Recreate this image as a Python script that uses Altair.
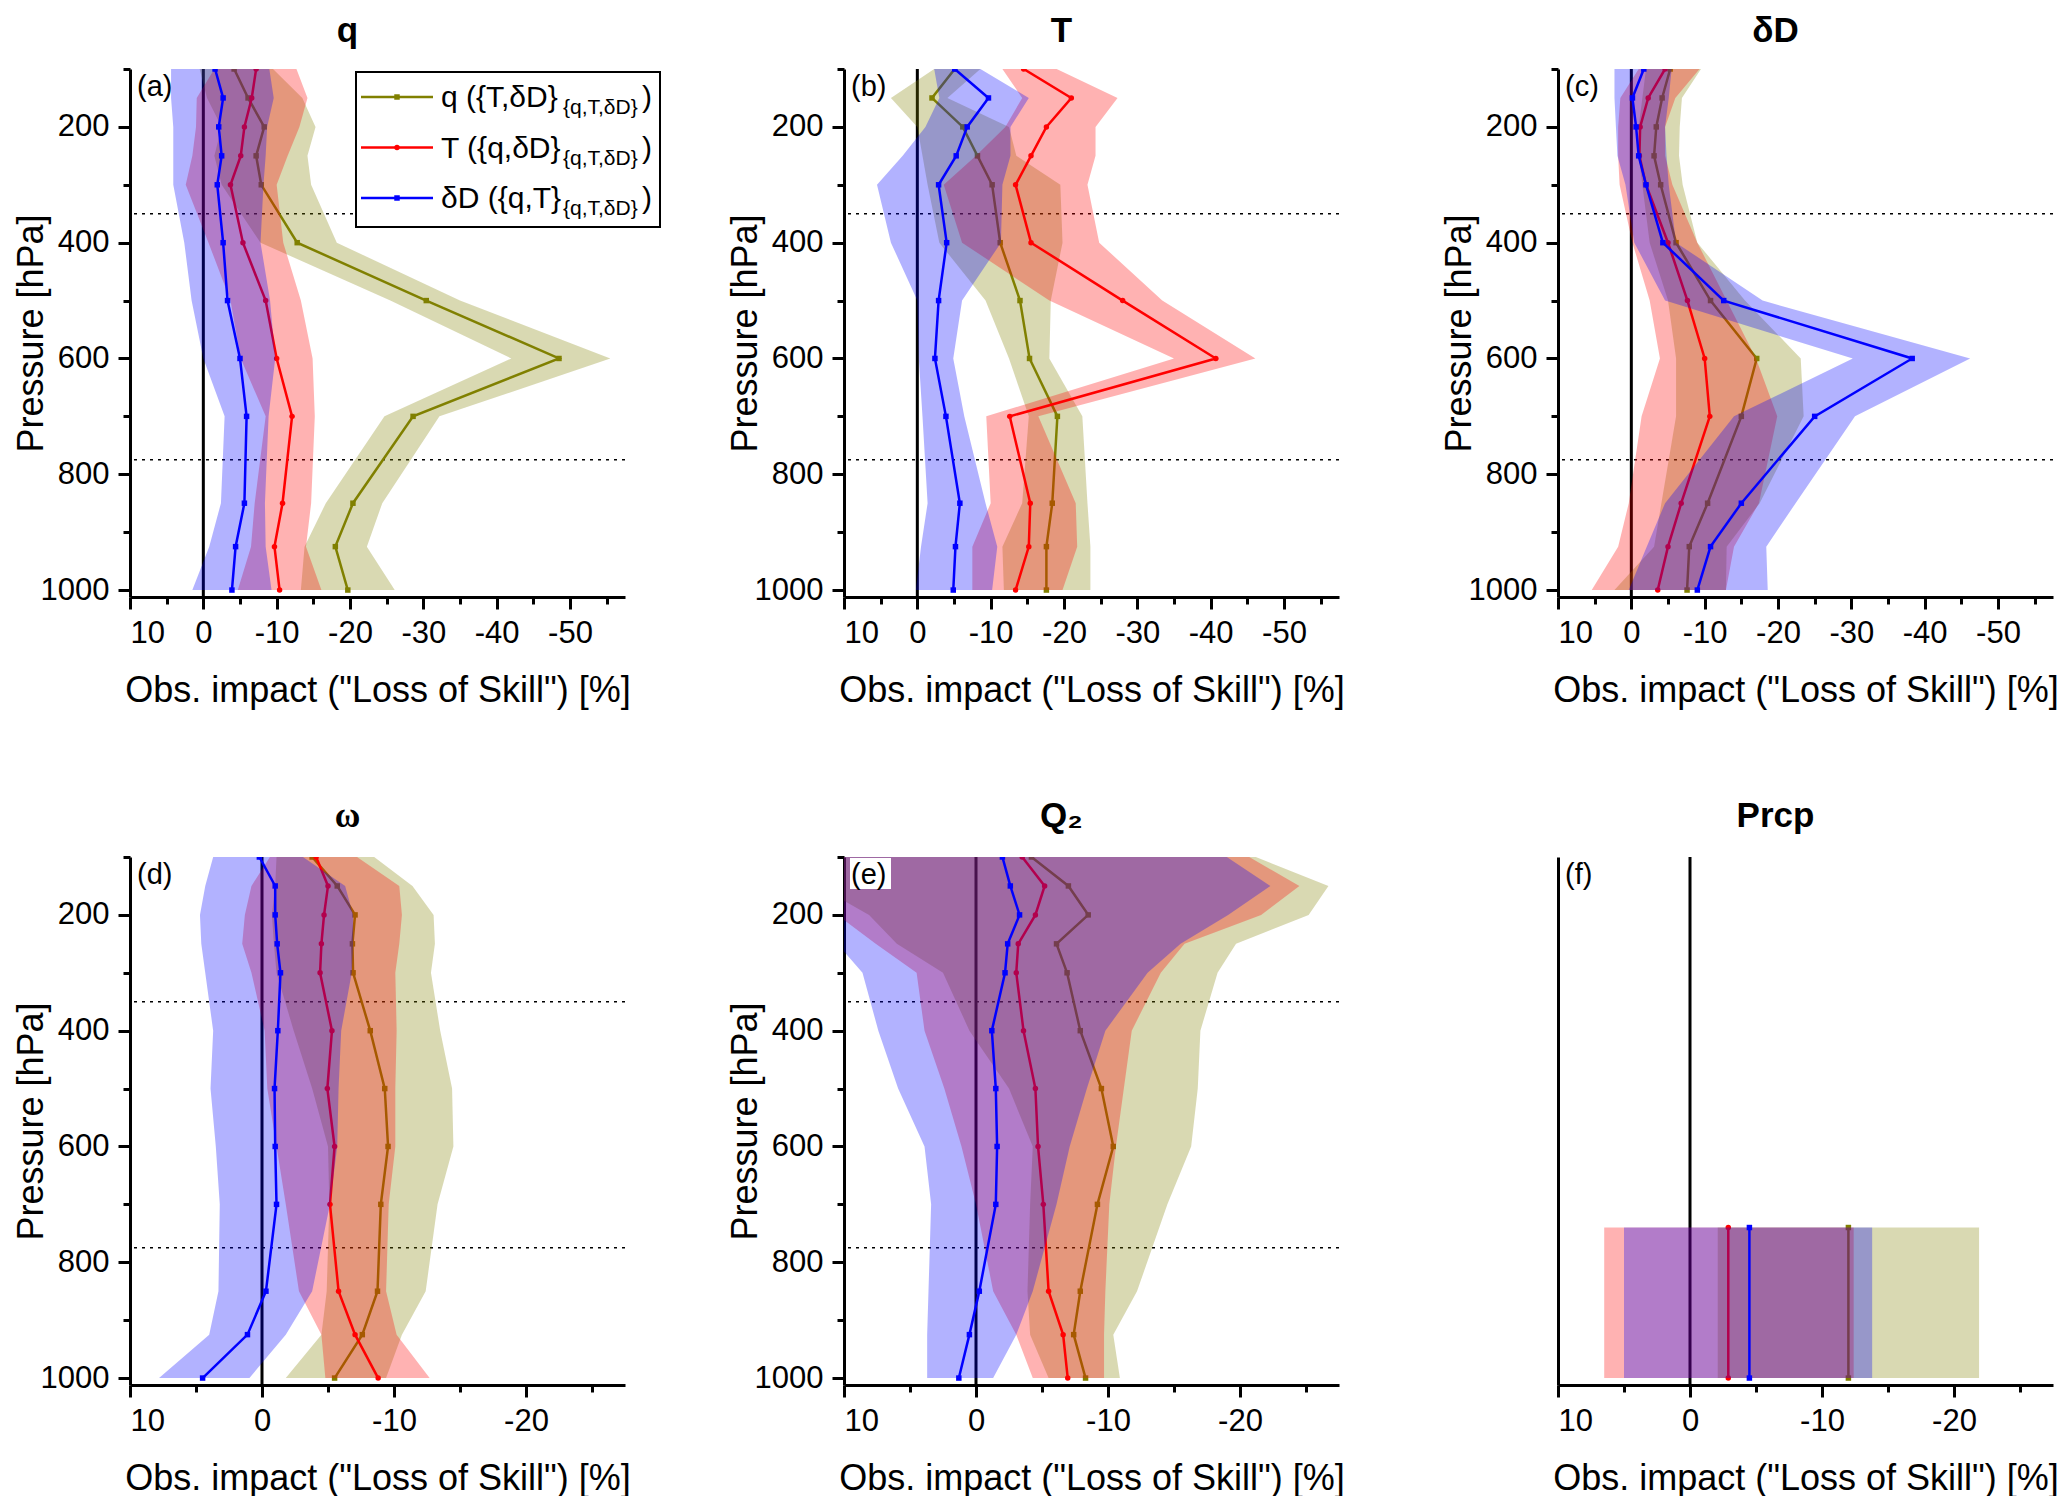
import pandas as pd
import altair as alt

LEVELS = [100, 150, 200, 250, 300, 400, 500, 600, 700, 850, 925, 1000]
PRCP_LEVELS = [740, 1000]
DOTTED = [350, 775]

# (a) q
a_q = [-4.2, -6.1, -8.3, -7.2, -7.9, -12.8, -30.4, -48.5, -28.6, -20.4, -18.0, -19.7]
a_q_lo = [0.5, -0.5, -2.5, -1.5, -2.5, -7.8, -25.5, -42.0, -24.7, -16.7, -13.8, -13.3]
a_q_hi = [-9.5, -13.5, -15.3, -14.2, -14.7, -18.2, -35.0, -55.5, -32.2, -24.4, -22.3, -26.1]
a_T = [-7.2, -6.6, -5.6, -5.1, -3.7, -5.4, -8.5, -10.0, -12.1, -10.8, -9.7, -10.4]
a_T_lo = [-1.5, 0.9, 1.0, 1.5, 2.4, -0.7, -3.7, -5.1, -8.5, -7.0, -6.5, -4.7]
a_T_hi = [-12.7, -14.2, -13.1, -11.5, -10.0, -10.9, -13.3, -14.9, -15.2, -14.7, -14.0, -16.1]
a_dD = [-1.6, -2.7, -2.1, -2.5, -1.9, -2.7, -3.3, -5.0, -5.9, -5.6, -4.4, -3.9]
a_dD_lo = [4.4, 4.4, 4.1, 4.1, 4.1, 2.6, 1.6, 0.0, -2.9, -2.4, -0.8, 1.5]
a_dD_hi = [-9.0, -9.6, -8.7, -8.5, -8.2, -7.8, -9.1, -9.8, -8.9, -8.4, -8.5, -9.3]

# (b) T
b_q = [-5.1, -2.0, -6.2, -8.2, -10.2, -11.3, -14.0, -15.3, -19.1, -18.4, -17.6, -17.6]
b_q_lo = [-2.3, 3.6, 0.0, -0.7, -1.4, -3.0, -9.3, -12.5, -15.2, -14.3, -11.6, -11.8]
b_q_hi = [-8.6, -4.1, -12.5, -13.5, -19.5, -19.8, -18.2, -18.0, -22.5, -23.2, -23.6, -23.6]
b_T = [-14.5, -21.0, -17.6, -15.5, -13.4, -15.5, -28.0, -40.7, -12.6, -15.4, -15.2, -13.4]
b_T_lo = [-11.6, -14.3, -12.0, -8.0, -3.6, -6.1, -18.0, -35.0, -9.4, -10.0, -7.5, -7.5]
b_T_hi = [-19.0, -27.3, -24.3, -24.3, -23.2, -24.8, -33.4, -46.1, -16.5, -21.6, -21.8, -19.8]
b_dD = [-5.1, -9.7, -6.8, -5.3, -2.9, -4.0, -2.9, -2.4, -3.9, -5.8, -5.2, -4.9]
b_dD_lo = [-2.3, -3.0, -1.1, 2.0, 5.5, 3.6, 0.0, -0.2, -0.7, -1.4, -0.5, 0.2]
b_dD_hi = [-8.6, -15.2, -12.7, -12.7, -11.6, -11.4, -6.1, -4.9, -6.4, -9.3, -10.9, -10.2]

# (c) dD
c_q = [-5.3, -4.2, -3.4, -3.1, -4.0, -6.1, -10.8, -17.1, -15.0, -10.4, -7.9, -7.6]
c_q_lo = [-2.0, -1.5, -1.0, -1.0, -1.5, -2.5, -5.0, -6.1, -6.1, -4.1, -3.1, 2.3]
c_q_hi = [-9.5, -6.9, -6.6, -6.5, -7.0, -9.0, -15.5, -23.1, -23.5, -17.5, -13.0, -12.9]
c_T = [-4.6, -2.3, -1.2, -1.1, -2.0, -5.0, -7.65, -10.0, -10.7, -6.8, -5.0, -3.6]
c_T_lo = [-1.0, 1.5, 1.8, 1.8, 1.6, -0.15, -2.5, -3.9, -1.4, 0.35, 1.8, 5.4]
c_T_hi = [-9.3, -6.0, -4.6, -4.6, -5.6, -9.0, -13.0, -17.0, -19.9, -17.4, -14.0, -12.9]
c_dD = [-1.7, -0.15, -0.65, -1.0, -2.0, -4.3, -12.6, -38.3, -25.0, -15.0, -10.8, -9.0]
c_dD_lo = [2.3, 2.3, 2.1, 1.9, 0.8, -0.4, -4.6, -30.2, -14.0, -4.6, -2.1, 0.35]
c_dD_hi = [-5.5, -5.1, -4.6, -4.8, -5.1, -6.1, -17.9, -46.2, -30.5, -22.4, -18.4, -18.6]

# (d) omega
d_q = [-3.8, -5.7, -7.05, -6.85, -6.9, -8.2, -9.3, -9.55, -9.0, -8.75, -7.6, -5.5]
d_q_lo = [-1.1, -1.0, -0.75, -0.9, -1.1, -2.4, -3.8, -5.0, -5.1, -4.9, -4.5, -1.8]
d_q_hi = [-8.5, -11.4, -13.0, -13.1, -12.8, -13.5, -14.4, -14.5, -13.3, -12.4, -10.6, -9.4]
d_T = [-4.1, -5.0, -4.7, -4.5, -4.4, -5.3, -4.95, -5.5, -5.15, -5.8, -7.05, -8.8]
d_T_lo = [-0.6, 0.8, 1.3, 1.5, 0.8, -0.2, -0.4, -1.1, -1.8, -2.8, -4.5, -4.8]
d_T_hi = [-7.2, -10.4, -10.6, -10.4, -10.1, -10.2, -10.1, -10.1, -9.6, -9.4, -10.2, -12.7]
d_dD = [0.2, -1.0, -1.0, -1.15, -1.4, -1.2, -0.95, -1.0, -1.1, -0.3, 1.1, 4.5]
d_dD_lo = [3.7, 4.3, 4.7, 4.6, 4.3, 3.7, 3.9, 3.5, 3.2, 3.3, 4.0, 7.8]
d_dD_hi = [-3.1, -6.3, -6.9, -6.9, -6.8, -6.0, -5.8, -5.7, -5.15, -3.8, -1.8, 0.95]

# (e) Q2
e_q = [-4.2, -7.0, -8.5, -6.1, -6.9, -7.9, -9.5, -10.4, -9.2, -7.9, -7.4, -8.3]
e_q_lo = [12.0, 12.0, 8.1, 6.0, 2.5, 0.5, -2.5, -4.3, -4.1, -3.9, -4.1, -5.5]
e_q_hi = [-21.2, -26.7, -25.2, -19.7, -18.3, -17.0, -16.8, -16.3, -14.5, -12.2, -10.4, -10.9]
e_T = [-3.5, -5.2, -4.5, -3.2, -3.05, -3.6, -4.5, -4.7, -5.1, -5.5, -6.6, -6.95]
e_T_lo = [13.0, 13.0, 10.5, 7.6, 4.5, 3.9, 2.4, 1.1, 0.0, -1.3, -3.05, -4.3]
e_T_hi = [-20.7, -24.5, -21.6, -15.8, -14.0, -11.8, -11.2, -10.6, -10.1, -9.8, -9.7, -9.7]
e_dD = [-2.0, -2.6, -3.3, -2.4, -2.2, -1.2, -1.5, -1.6, -1.5, -0.25, 0.5, 1.3]
e_dD_lo = [14.0, 14.0, 12.0, 10.5, 8.6, 7.4, 5.9, 3.9, 3.4, 3.6, 3.7, 3.7]
e_dD_hi = [-19.0, -22.3, -19.1, -15.5, -13.0, -9.8, -8.4, -7.1, -6.1, -4.3, -3.05, -1.3]

# (f) Prcp
f_q = [-12.0, -12.0]
f_q_lo = [-2.1, -2.1]
f_q_hi = [-21.9, -21.9]
f_T = [-2.9, -2.9]
f_T_lo = [6.5, 6.5]
f_T_hi = [-12.4, -12.4]
f_dD = [-4.5, -4.5]
f_dD_lo = [5.0, 5.0]
f_dD_hi = [-13.8, -13.8]

XLAB = 'Obs. impact ("Loss of Skill") [%]'
YLAB = "Pressure [hPa]"
LEG_MAIN = ["q ({T,δD}", "T ({q,δD}", "δD ({q,T}"]
LEG_SUB = "{q,T,δD}"
LEG_KEYS = ["q", "T", "dD"]

FONT = "Liberation Sans"
COLORS = {"q": "#808000", "T": "#ff0000", "dD": "#0000ff"}
SHAPES = {"q": "square", "T": "circle", "dD": "square"}
W, H = 495, 528


def frame(levels, v, lo, hi):
    return pd.DataFrame({"p": levels, "v": v, "lo": lo, "hi": hi})


def panel(title, tag, series, xend, row, levels=LEVELS, yaxis=True,
          dotted=True, legend=False, tagbox=False, title_font=FONT):
    xscale = alt.Scale(domain=[xend - 2.5, 10], reverse=True, nice=False, zero=False)
    yscale = alt.Scale(domain=[100, 1012], reverse=True, nice=False, zero=False)
    major_x = "abs(datum.value % 10) < 0.01"
    xax = alt.Axis(values=list(range(10, xend - 1, -5)),
                   labelExpr=f"{major_x} ? '' + datum.value : ''",
                   tickSize={"condition": {"test": major_x, "value": 12}, "value": 7},
                   title=XLAB, titlePadding=25)
    if yaxis:
        major_y = "datum.value % 200 === 0"
        yax = alt.Axis(values=list(range(100, 1001, 100)),
                       labelExpr=f"{major_y} ? '' + datum.value : ''",
                       tickSize={"condition": {"test": major_y, "value": 12}, "value": 7},
                       title=YLAB, titlePadding=-10)
    else:
        yax = alt.Axis(labels=False, ticks=False, title="")
    xv = alt.X("v:Q", scale=xscale, axis=xax)
    yp = alt.Y("p:Q", scale=yscale, axis=yax)

    layers = [alt.Chart(pd.DataFrame({"v": [0]})).mark_rule(color="black", strokeWidth=3).encode(x=xv)]
    if dotted:
        layers.append(alt.Chart(pd.DataFrame({"p": DOTTED})).mark_rule(
            color="black", strokeWidth=1.5, strokeDash=[3, 5]).encode(y=yp))
    for key, (v, lo, hi) in series.items():
        df = frame(levels, v, lo, hi)
        col = COLORS[key]
        layers.append(alt.Chart(df).mark_area(orient="horizontal", color=col, opacity=0.3, clip=True).encode(
            y=yp, x=alt.X("lo:Q", scale=xscale, axis=xax), x2="hi:Q"))
        layers.append(alt.Chart(df).mark_line(
            color=col, strokeWidth=2.5, clip=True,
            point=alt.OverlayMarkDef(shape=SHAPES[key], size=30, filled=True, color=col, opacity=1),
        ).encode(y=yp, x=xv, order="p:Q"))

    one = pd.DataFrame({"t": [tag]})
    if tagbox:
        layers.append(alt.Chart(one).mark_rect(color="white").encode(
            x=alt.value(6), x2=alt.value(47), y=alt.value(1), y2=alt.value(32)))
    layers.append(alt.Chart(one).mark_text(align="left", baseline="top", font=FONT, fontSize=29, color="black").encode(
        x=alt.value(7), y=alt.value(4), text="t:N"))

    if legend:
        layers.append(alt.Chart(one).mark_rect(fill="white", stroke="black", strokeWidth=2).encode(
            x=alt.value(226), x2=alt.value(530), y=alt.value(3), y2=alt.value(158)))
        for i, key in enumerate(LEG_KEYS):
            ly = 28 + 50.5 * i
            col = COLORS[key]
            layers.append(alt.Chart(one).mark_rule(color=col, strokeWidth=2.5).encode(
                x=alt.value(231), x2=alt.value(303), y=alt.value(ly)))
            layers.append(alt.Chart(one).mark_point(shape=SHAPES[key], size=30, filled=True, color=col, opacity=1).encode(
                x=alt.value(267), y=alt.value(ly)))
            texts = pd.DataFrame({"t": [LEG_MAIN[i]]})
            layers.append(alt.Chart(texts).mark_text(align="left", baseline="alphabetic", font=FONT, fontSize=30, color="black").encode(
                x=alt.value(311), y=alt.value(ly + 10), text="t:N"))
            subs = pd.DataFrame({"t": [LEG_SUB]})
            layers.append(alt.Chart(subs).mark_text(align="left", baseline="alphabetic", font=FONT, fontSize=21, color="black").encode(
                x=alt.value(433), y=alt.value(ly + 17), text="t:N"))
            close = pd.DataFrame({"t": [")"]})
            layers.append(alt.Chart(close).mark_text(align="left", baseline="alphabetic", font=FONT, fontSize=30, color="black").encode(
                x=alt.value(512), y=alt.value(ly + 10), text="t:N"))

    return alt.layer(*layers).properties(
        width=W, height=H,
        title=alt.TitleParams(title, font=title_font, fontSize=35, fontWeight="bold", color="black",
                              anchor="middle", dx=-30, baseline="alphabetic", offset=-9 if row == 0 else -6),
    )


pa = panel("q", "(a)", {"q": (a_q, a_q_lo, a_q_hi), "T": (a_T, a_T_lo, a_T_hi), "dD": (a_dD, a_dD_lo, a_dD_hi)},
           -55, 0, legend=True)
pb = panel("T", "(b)", {"q": (b_q, b_q_lo, b_q_hi), "T": (b_T, b_T_lo, b_T_hi), "dD": (b_dD, b_dD_lo, b_dD_hi)}, -55, 0)
pc = panel("δD", "(c)", {"q": (c_q, c_q_lo, c_q_hi), "T": (c_T, c_T_lo, c_T_hi), "dD": (c_dD, c_dD_lo, c_dD_hi)}, -55, 0)
pd_ = panel("ω", "(d)", {"q": (d_q, d_q_lo, d_q_hi), "T": (d_T, d_T_lo, d_T_hi), "dD": (d_dD, d_dD_lo, d_dD_hi)},
            -25, 1, title_font="Liberation Serif")
pe = panel("Q₂", "(e)", {"q": (e_q, e_q_lo, e_q_hi), "T": (e_T, e_T_lo, e_T_hi), "dD": (e_dD, e_dD_lo, e_dD_hi)},
           -25, 1, tagbox=True)
pf = panel("Prcp", "(f)", {"q": (f_q, f_q_lo, f_q_hi), "T": (f_T, f_T_lo, f_T_hi), "dD": (f_dD, f_dD_lo, f_dD_hi)},
           -25, 1, levels=PRCP_LEVELS, yaxis=False, dotted=False)

chart = alt.concat(pa, pb, pc, pd_, pe, pf, columns=3,
                   spacing={"row": 260, "column": 219}, bounds="flush").properties(
    padding={"left": 5, "top": 5, "right": 0, "bottom": 0}
).configure_axis(
    domainColor="black", domainWidth=3, tickColor="black", tickWidth=3,
    labelFont=FONT, labelFontSize=31, labelColor="black", labelPadding=9,
    titleFont=FONT, titleFontSize=36, titleFontWeight="normal", titleColor="black",
    grid=False,
).configure_view(strokeWidth=0)

chart.save("out.html", embed_options={"renderer": "svg", "actions": False})
